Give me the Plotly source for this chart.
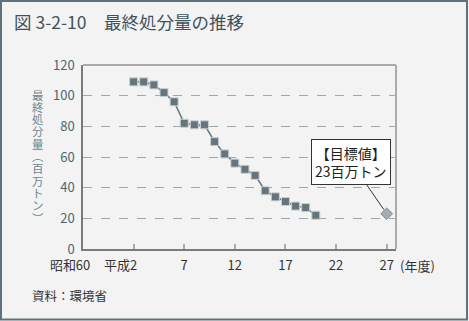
import plotly.graph_objects as go

# ---- data ----
years = list(range(1990, 2009))
amounts = [109, 109, 107, 102, 96, 82, 81, 81, 70, 62, 56, 52, 48, 38, 34, 31, 28, 27, 22]
target_year = [2015]
target_value = [23]
tick_years = [1985, 1990, 1995, 2000, 2005, 2010, 2015]
tick_labels = ["60", "2", "7", "12", "17", "22", "27"]
era_years = [1985, 1990]
era_labels = ["昭和", "平成"]
y_ticks = [0, 20, 40, 60, 80, 100, 120]

W, H = 469, 321
L, R, T, B = 83, 73, 65, 72
PW, PH = W - L - R, H - T - B
FONT = "Noto Sans CJK JP"


def px(x):
    return (x - L) / PW


def py(y):
    return (H - B - y) / PH


fig = go.Figure()
fig.add_trace(go.Scatter(
    x=years, y=amounts, mode="lines+markers",
    line=dict(color="#66747b", width=1.5),
    marker=dict(symbol="square", size=8, color="#66747b",
                line=dict(color="#c9d1d4", width=1)),
    showlegend=False, hoverinfo="skip"))
fig.add_trace(go.Scatter(
    x=target_year, y=target_value, mode="markers",
    marker=dict(symbol="diamond", size=9, color="#a3adb2",
                line=dict(color="#7f8d94", width=1)),
    showlegend=False, hoverinfo="skip"))

annotations = []
annotations.append(dict(
    text="図 3-2-10　最終処分量の推移", xref="paper", yref="paper",
    x=px(12), y=py(21), xanchor="left", yanchor="middle", showarrow=False,
    font=dict(family=FONT, size=17.5, color="#3e535c")))
annotations.append(dict(
    text="資料：環境省", xref="paper", yref="paper",
    x=px(30), y=py(295), xanchor="left", yanchor="middle", showarrow=False,
    font=dict(family=FONT, size=12.5, color="#333333")))
annotations.append(dict(
    text="(年度)", xref="paper", yref="paper",
    x=px(398), y=py(265), xanchor="left", yanchor="middle", showarrow=False,
    font=dict(family=FONT, size=13, color="#333333")))

# era prefixes to the left of the tick numbers
digit_half = {"60": 5.5, "2": 2}
for yr, era, num in zip(era_years, era_labels, tick_labels[:2]):
    annotations.append(dict(
        text=era, xref="x", yref="paper", x=yr, y=py(264.5),
        xanchor="right", yanchor="middle", xshift=-digit_half[num],
        showarrow=False, height=15,
        font=dict(family=FONT, size=13, color="#333333")))

ytitle = "最終処分量︵百万トン︶"
for i, ch in enumerate(ytitle):
    annotations.append(dict(
        text=ch, xref="paper", yref="paper",
        x=px(38), y=py(94.5 + 12.3 * i), xanchor="center", yanchor="middle",
        showarrow=False, height=12, font=dict(family=FONT, size=11.5, color="#6f868e")))

annotations.append(dict(
    text="【目標値】<br>23百万トン", x=target_year[0], y=target_value[0],
    xref="x", yref="y", showarrow=True, arrowhead=0, arrowwidth=1,
    arrowcolor="#333333", ax=-36, ay=-52, standoff=5,
    bgcolor="#ffffff", bordercolor="#333333", borderwidth=1, borderpad=3,
    font=dict(family=FONT, size=14, color="#222222")))

shapes = [
    dict(type="rect", xref="paper", yref="paper",
         x0=px(1), x1=px(467), y0=py(319.5), y1=py(1),
         line=dict(color="#5f737d", width=2), layer="below"),
    dict(type="line", xref="paper", yref="paper", x0=0, x1=1, y0=1, y1=1,
         line=dict(color="#aaaaaa", width=2)),
    dict(type="line", xref="paper", yref="paper", x0=1, x1=1, y0=0, y1=1,
         line=dict(color="#aaaaaa", width=2)),
]

fig.update_layout(
    width=W, height=H,
    margin=dict(l=L, r=R, t=T, b=B),
    paper_bgcolor="#f3f3f3", plot_bgcolor="#f3f3f3",
    font=dict(family=FONT),
    annotations=annotations, shapes=shapes,
    xaxis=dict(range=[1985, 2015.92], tickvals=tick_years, ticktext=tick_labels,
               tickangle=0,
               showgrid=False, zeroline=False, showline=True,
               linecolor="#7a7a7a", linewidth=1.5, ticks="inside", ticklen=5,
               tickcolor="#aaaaaa", tickwidth=1.5, ticklabelstandoff=4,
               tickfont=dict(family=FONT, size=13, color="#333333")),
    yaxis=dict(range=[0, 120], tickvals=y_ticks, showgrid=True,
               gridcolor="#9aaaaf", griddash="dash", gridwidth=1,
               zeroline=False, showline=True, linecolor="#7a7a7a", linewidth=1.5,
               ticks="", ticklabelstandoff=4,
               tickfont=dict(family=FONT, size=13, color="#4d6670")),
)

fig.write_html("out.html")
